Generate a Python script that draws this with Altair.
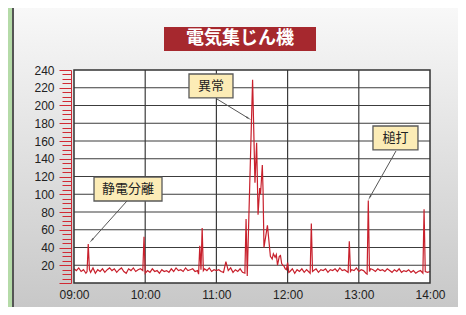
import math
import altair as alt
import pandas as pd

# ---- data ----
minutes = [0, 2, 4, 6, 8, 10, 11, 12, 13, 14, 16, 18, 20, 22, 24, 26, 28, 30, 32, 34, 36, 38, 40,
           42, 44, 46, 48, 50, 52, 54, 56, 58, 59, 60, 62, 64, 66, 68, 70, 72, 74, 76, 78, 80,
           82, 84, 86, 88, 90, 92, 94, 96, 98, 100, 102, 104, 105, 106, 107, 108, 109, 110, 112,
           114, 116, 118, 120, 122, 124, 126, 128, 130, 132, 134, 136, 138, 140, 142, 144, 145,
           146, 150.5, 152.5, 153.9, 155.1, 156.5, 157.2, 158.7, 159.3, 160.1, 163, 165.5, 167,
           168, 169.5, 170.5, 171.5, 173, 174, 175, 176, 177, 178, 179, 180, 181, 182, 184, 186,
           188, 190, 192, 194, 196, 199, 200, 201, 202, 204, 206, 208, 210, 212, 214, 216, 218,
           220, 222, 224, 226, 228, 230, 231, 232, 233, 234, 236, 238, 240, 242, 244, 246, 247,
           248, 249, 250, 252, 254, 256, 258, 260, 262, 264, 266, 268, 270, 272, 274, 276, 278,
           280, 282, 284, 286, 288, 290, 292, 294, 295, 296, 298, 300]
values = [16, 14, 17, 13, 15, 11, 13, 44, 15, 12, 17, 11, 15, 13, 16, 12, 15, 17, 14, 16, 12, 15, 17,
          13, 11, 16, 14, 17, 13, 15, 16, 14, 52, 11, 14, 12, 16, 13, 14, 11, 15, 13, 14, 12,
          16, 13, 17, 14, 15, 13, 17, 14, 15, 16, 13, 14, 10, 42, 15, 62, 14, 16, 14,
          17, 13, 15, 14, 15, 13, 12, 24, 14, 17, 12, 15, 13, 16, 12, 11, 72,
          8, 229, 113, 158, 77, 107, 100, 133, 105, 40, 65, 30, 27,
          33, 29, 32, 20, 30, 31, 22, 20, 19, 16, 15, 23, 12, 13, 16, 11,
          15, 13, 16, 12, 15, 11, 67, 13, 14, 16, 12, 15, 14, 16, 12, 15, 14,
          16, 13, 17, 14, 15, 13, 12, 47, 13, 15, 14, 17, 13, 15, 14, 11, 10,
          93, 13, 16, 15, 13, 16, 14, 15, 13, 16, 14, 12, 15, 13, 16, 12, 14,
          13, 15, 12, 14, 11, 13, 14, 11, 83, 13, 12, 13]

chart_title = "電気集じん機"
hour_ticks = [9, 10, 11, 12, 13, 14]
grid_x = [10, 11, 12, 13]
y_ticks = list(range(0, 241, 5))
grid_y = [20, 40, 60, 80, 100, 120, 140, 160, 180, 200, 220]

note_labels = ["異常", "静電分離", "槌打"]
box_x1 = [10.615, 9.281, 13.199]
box_x2 = [11.233, 10.236, 13.831]
box_y1 = [208.5, 92.4, 149.9]
box_y2 = [235.5, 119.4, 176.9]
arrow_x1 = [11.008, 9.744, 13.522]
arrow_y1 = [207.3, 92.4, 148.7]
arrow_x2 = [11.444, 9.253, 13.157]
arrow_y2 = [185.9, 48.5, 96.9]

# ---- layout ----
W, H = 356, 213
PAD_L, PAD_T, PAD_R, PAD_B = 66, 62, 28, 24
PX_PER_HOUR = W / 5
PX_PER_UNIT = H / 240

df = pd.DataFrame({"minute": minutes, "value": values})
df["hour"] = 9 + df["minute"] / 60

notes = pd.DataFrame({
    "label": note_labels, "bx1": box_x1, "bx2": box_x2, "by1": box_y1, "by2": box_y2,
    "ax1": arrow_x1, "ay1": arrow_y1, "ax2": arrow_x2, "ay2": arrow_y2,
})
notes["cx"] = (notes["bx1"] + notes["bx2"]) / 2
notes["cy"] = (notes["by1"] + notes["by2"]) / 2
notes["ang"] = [
    math.degrees(math.atan2((x2 - x1) * PX_PER_HOUR, (y2 - y1) * PX_PER_UNIT)) % 360
    for x1, y1, x2, y2 in zip(arrow_x1, arrow_y1, arrow_x2, arrow_y2)
]

xs = alt.Scale(domain=[9, 14], nice=False, zero=False)
ys = alt.Scale(domain=[0, 240], nice=False, zero=False)
one = alt.Data(values=[{}])
RED = "#d02a34"
GRID = "#3c3c3c"

x_axis = alt.Axis(
    values=hour_ticks, grid=False, ticks=False, domain=False, zindex=2, title=None,
    labelExpr="(datum.value < 10 ? '0' : '') + datum.value + ':00'",
    labelFont="Liberation Sans", labelFontSize=12, labelColor="#222222",
    labelPadding=6, labelFlush=False, labelOverlap=False)
y_axis = alt.Axis(
    values=y_ticks, grid=False, offset=3, domainColor=RED, domainWidth=1, zindex=2, title=None,
    tickColor=RED, tickWidth=1,
    tickSize={"condition": {"test": "datum.value % 20 === 0", "value": 12}, "value": 9},
    labelExpr="datum.value % 20 === 0 && datum.value > 0 ? datum.label : ''",
    labelFont="Liberation Sans", labelFontSize=12, labelColor="#222222",
    labelPadding=5, labelOverlap=False, labelFlush=False)


def X(field):
    return alt.X(field, scale=xs, axis=x_axis, title=None)


def Y(field):
    return alt.Y(field, scale=ys, axis=y_axis, title=None)


panel = alt.Chart(one).mark_rect(
    fill=alt.Gradient(gradient="linear", x1=0, x2=0, y1=0, y2=1,
                      stops=[alt.GradientStop(color="#f8f8f8", offset=0),
                             alt.GradientStop(color="#c8c8c8", offset=1)])
).encode(x=alt.value(-60), x2=alt.value(W + PAD_R), y=alt.value(-PAD_T), y2=alt.value(H + PAD_B))

panel_edge = alt.Chart(one).mark_rule(color="#555555", strokeWidth=2).encode(
    x=alt.value(-61), y=alt.value(-PAD_T), y2=alt.value(H + PAD_B))

plot_bg = alt.Chart(one).mark_rect(fill="white").encode(
    x=alt.value(0), x2=alt.value(W), y=alt.value(0), y2=alt.value(H))

title_bg = alt.Chart(one).mark_rect(fill="#a6282e").encode(
    x=alt.value(90), x2=alt.value(242), y=alt.value(-43), y2=alt.value(-19))
title_txt = alt.Chart(one).mark_text(
    text=chart_title, color="white", fontSize=18, fontWeight="bold",
    font="Noto Sans CJK JP", align="center", baseline="middle"
).encode(x=alt.value(166), y=alt.value(-31))

grid_h = alt.Chart(pd.DataFrame({"g": grid_y})).mark_rule(color=GRID, strokeWidth=1.2).encode(
    y=Y("g:Q"), x=alt.value(0), x2=alt.value(W))
grid_v = alt.Chart(pd.DataFrame({"h": grid_x})).mark_rule(color=GRID, strokeWidth=1.2).encode(
    x=X("h:Q"), y=alt.value(0), y2=alt.value(H))

line = alt.Chart(df).mark_line(color="#c8202c", strokeWidth=1.2).encode(
    x=X("hour:Q"), y=Y("value:Q"))

border = alt.Chart(one).mark_rect(fillOpacity=0, stroke="#333333", strokeWidth=1.5).encode(
    x=alt.value(0), x2=alt.value(W), y=alt.value(0), y2=alt.value(H))

arrows = alt.Chart(notes).mark_rule(color="#555555", strokeWidth=1).encode(
    x=X("ax1:Q"), x2="ax2:Q", y=Y("ay1:Q"), y2="ay2:Q")
heads = alt.Chart(notes).mark_point(shape="wedge", filled=True, color="#555555", size=45, opacity=1).encode(
    x=X("ax2:Q"), y=Y("ay2:Q"), angle=alt.Angle("ang:Q", scale=None))
boxes = alt.Chart(notes).mark_rect(fill="#fcecb6", stroke="#5a5a5a", strokeWidth=1.3).encode(
    x=X("bx1:Q"), x2="bx2:Q", y=Y("by1:Q"), y2="by2:Q")
texts = alt.Chart(notes).mark_text(font="Noto Sans CJK JP", fontSize=13, color="#222222",
                                   baseline="middle", align="center").encode(
    x=X("cx:Q"), y=Y("cy:Q"), text="label:N")

chart = alt.layer(
    panel, panel_edge, plot_bg, title_bg, title_txt, grid_h, grid_v, line, border,
    arrows, heads, boxes, texts
).properties(
    width=W, height=H,
    autosize=alt.AutoSizeParams(type="none"),
    padding={"left": PAD_L, "top": PAD_T, "right": PAD_R, "bottom": PAD_B},
    background="#b5dba8",
).configure_view(stroke=None)

chart.save("out.html", embed_options={"renderer": "svg", "actions": False})
